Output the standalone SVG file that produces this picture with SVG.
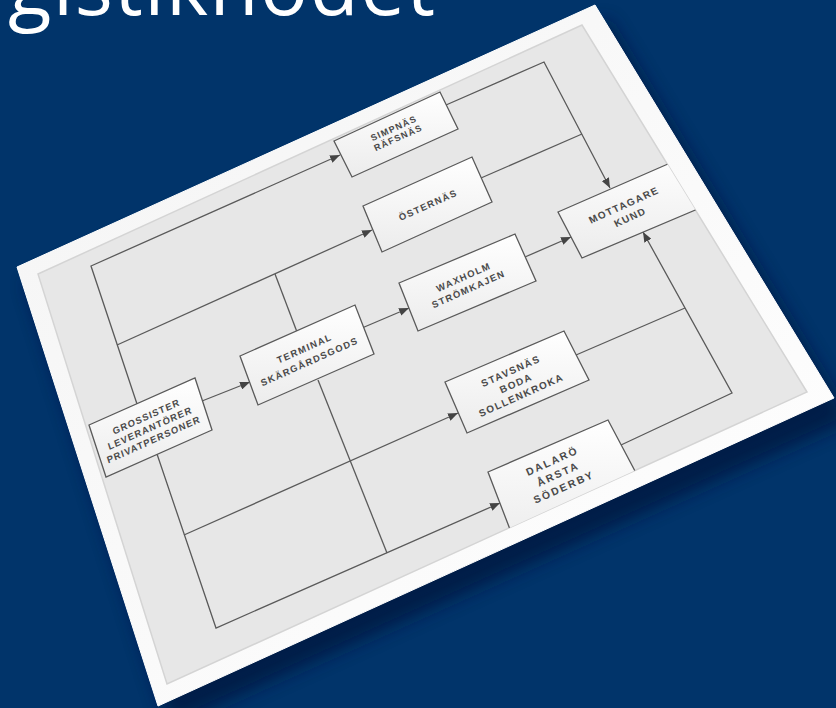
<svg xmlns="http://www.w3.org/2000/svg" width="836" height="708" viewBox="0 0 836 708">
  <defs>
    <style>
      .title { font-family: "Open Sans", "Noto Sans", sans-serif; font-size: 80px; fill: #ffffff; letter-spacing: 1.5px; }
      .box { fill: url(#boxGrad); stroke: #5a5a5a; stroke-width: 1.3; }
      .lbl { font-family: "Liberation Sans", Arial, sans-serif; font-size: 9.5px; font-weight: bold; fill: #4a4a4a; text-anchor: middle; letter-spacing: 1.3px; }
      .conn { fill: none; stroke: #5a5a5a; stroke-width: 1.3; }
      .arr { marker-end: url(#arrow); }
    </style>
    <linearGradient id="boxGrad" x1="0" y1="0" x2="0" y2="1">
      <stop offset="0" stop-color="#ffffff"/>
      <stop offset="1" stop-color="#ececec"/>
    </linearGradient>
    <linearGradient id="frameGrad" x1="0" y1="0" x2="1" y2="1">
      <stop offset="0" stop-color="#f4f4f4"/>
      <stop offset="1" stop-color="#ffffff"/>
    </linearGradient>
    <marker id="arrow" viewBox="0 0 10 8" refX="10" refY="4" markerWidth="10" markerHeight="8" markerUnits="userSpaceOnUse" orient="auto">
      <path d="M0,0 L10,4 L0,8 z" fill="#444444"/>
    </marker>
    <filter id="shadow" x="-20%" y="-20%" width="140%" height="140%">
      <feGaussianBlur stdDeviation="9"/>
    </filter>
    <clipPath id="inner">
      <polygon points="38,274 582,25 807,392 167,684"/>
    </clipPath>
  </defs>

  <rect x="0" y="0" width="836" height="708" fill="#01346a"/>

  <text class="title" x="8" y="15">gistiknodet</text>

  <g id="card">
    <polygon points="27,282 607,20 850,420 170,726" fill="#00193c" opacity="0.75" filter="url(#shadow)"/>
    <polygon points="17,267 595,5 834,398 158,706" fill="url(#frameGrad)" stroke="#ffffff" stroke-width="1"/>
    <polygon points="38,274 582,25 807,392 167,684" fill="#e7e7e7" stroke="#d4d4d4" stroke-width="1.5"/>
  </g>

  <g id="connectors" clip-path="url(#inner)">
    <polyline class="conn arr" points="137,404 91,266 340,155"/>
    <polyline class="conn arr" points="117,345 372,230"/>
    <polyline class="conn" points="275,274 297,332"/>
    <polyline class="conn arr" points="202,401 250,382"/>
    <polyline class="conn arr" points="362,328 409,308"/>
    <polyline class="conn arr" points="525,257 571,237"/>
    <polyline class="conn arr" points="446,105 544,62 610,188"/>
    <polyline class="conn" points="481,178 582,134"/>
    <polyline class="conn arr" points="621,445 732,393 643,232"/>
    <polyline class="conn" points="576,355 685,308"/>
    <polyline class="conn arr" points="157,454 216,628 500,503"/>
    <polyline class="conn arr" points="184,535 458,413"/>
    <polyline class="conn" points="318,380 387,553"/>
  </g>

  <g id="nodes" clip-path="url(#inner)">
    <g id="n-simpnas">
      <polygon class="box" points="334,141 440,92 458,129 352,177"/>
      <g transform="matrix(0.866,-0.390,0.404,0.860,396,133)">
        <text class="lbl" x="0" y="-2.3">SIMPNÄS</text>
        <text class="lbl" x="0" y="8.7">RÄFSNÄS</text>
      </g>
    </g>
    <g id="n-osternas">
      <polygon class="box" points="363,206 472,157 492,202 382,252"/>
      <g transform="matrix(0.912,-0.410,0.395,0.919,428,205)">
        <text class="lbl" x="0" y="3.4">ÖSTERNÄS</text>
      </g>
    </g>
    <g id="n-mottagare">
      <polygon class="box" points="558,212 700,150 726,197 582,258"/>
      <g transform="matrix(0.958,-0.431,0.484,0.931,627,211)">
        <text class="lbl" x="0" y="-3.1">MOTTAGARE</text>
        <text class="lbl" x="0" y="9.9">KUND</text>
      </g>
    </g>
    <g id="n-waxholm">
      <polygon class="box" points="399,283 515,234 536,281 418,331"/>
      <g transform="matrix(0.912,-0.410,0.379,0.925,466,283)">
        <text class="lbl" x="0" y="-3.1">WAXHOLM</text>
        <text class="lbl" x="0" y="9.9">STRÖMKAJEN</text>
      </g>
    </g>
    <g id="n-terminal">
      <polygon class="box" points="240,356 355,305 374,354 258,405"/>
      <g transform="matrix(0.912,-0.410,0.355,0.935,307,355)">
        <text class="lbl" x="0" y="-3.6">TERMINAL</text>
        <text class="lbl" x="0" y="10.4">SKÄRGÅRDSGODS</text>
      </g>
    </g>
    <g id="n-stavsnas">
      <polygon class="box" points="445,382 564,331 589,380 467,433"/>
      <g transform="matrix(0.958,-0.431,0.423,0.961,516,383)">
        <text class="lbl" x="0" y="-9.1">STAVSNÄS</text>
        <text class="lbl" x="0" y="3.4">BODA</text>
        <text class="lbl" x="0" y="15.9">SOLLENKROKA</text>
      </g>
    </g>
    <g id="n-dalaro">
      <polygon class="box" points="488,472 608,420 645,490 516,545"/>
      <g transform="matrix(1.003,-0.451,0.451,1.003,558,474)">
        <text class="lbl" x="0" y="-9.6" style="letter-spacing:1.8px">DALARÖ</text>
        <text class="lbl" x="0" y="3.4" style="letter-spacing:1.8px">ÅRSTA</text>
        <text class="lbl" x="0" y="16.4" style="letter-spacing:1.8px">SÖDERBY</text>
      </g>
    </g>
    <g id="n-grossister">
      <polygon class="box" points="89,425 195,378 212,430 106,477"/>
      <g transform="matrix(0.912,-0.410,0.314,0.949,150,428)">
        <text class="lbl" x="0" y="-8.6" style="letter-spacing:1.1px">GROSSISTER</text>
        <text class="lbl" x="0" y="3.4" style="letter-spacing:1.1px">LEVERANTÖRER</text>
        <text class="lbl" x="0" y="15.4" style="letter-spacing:1.1px">PRIVATPERSONER</text>
      </g>
    </g>
  </g>
</svg>
